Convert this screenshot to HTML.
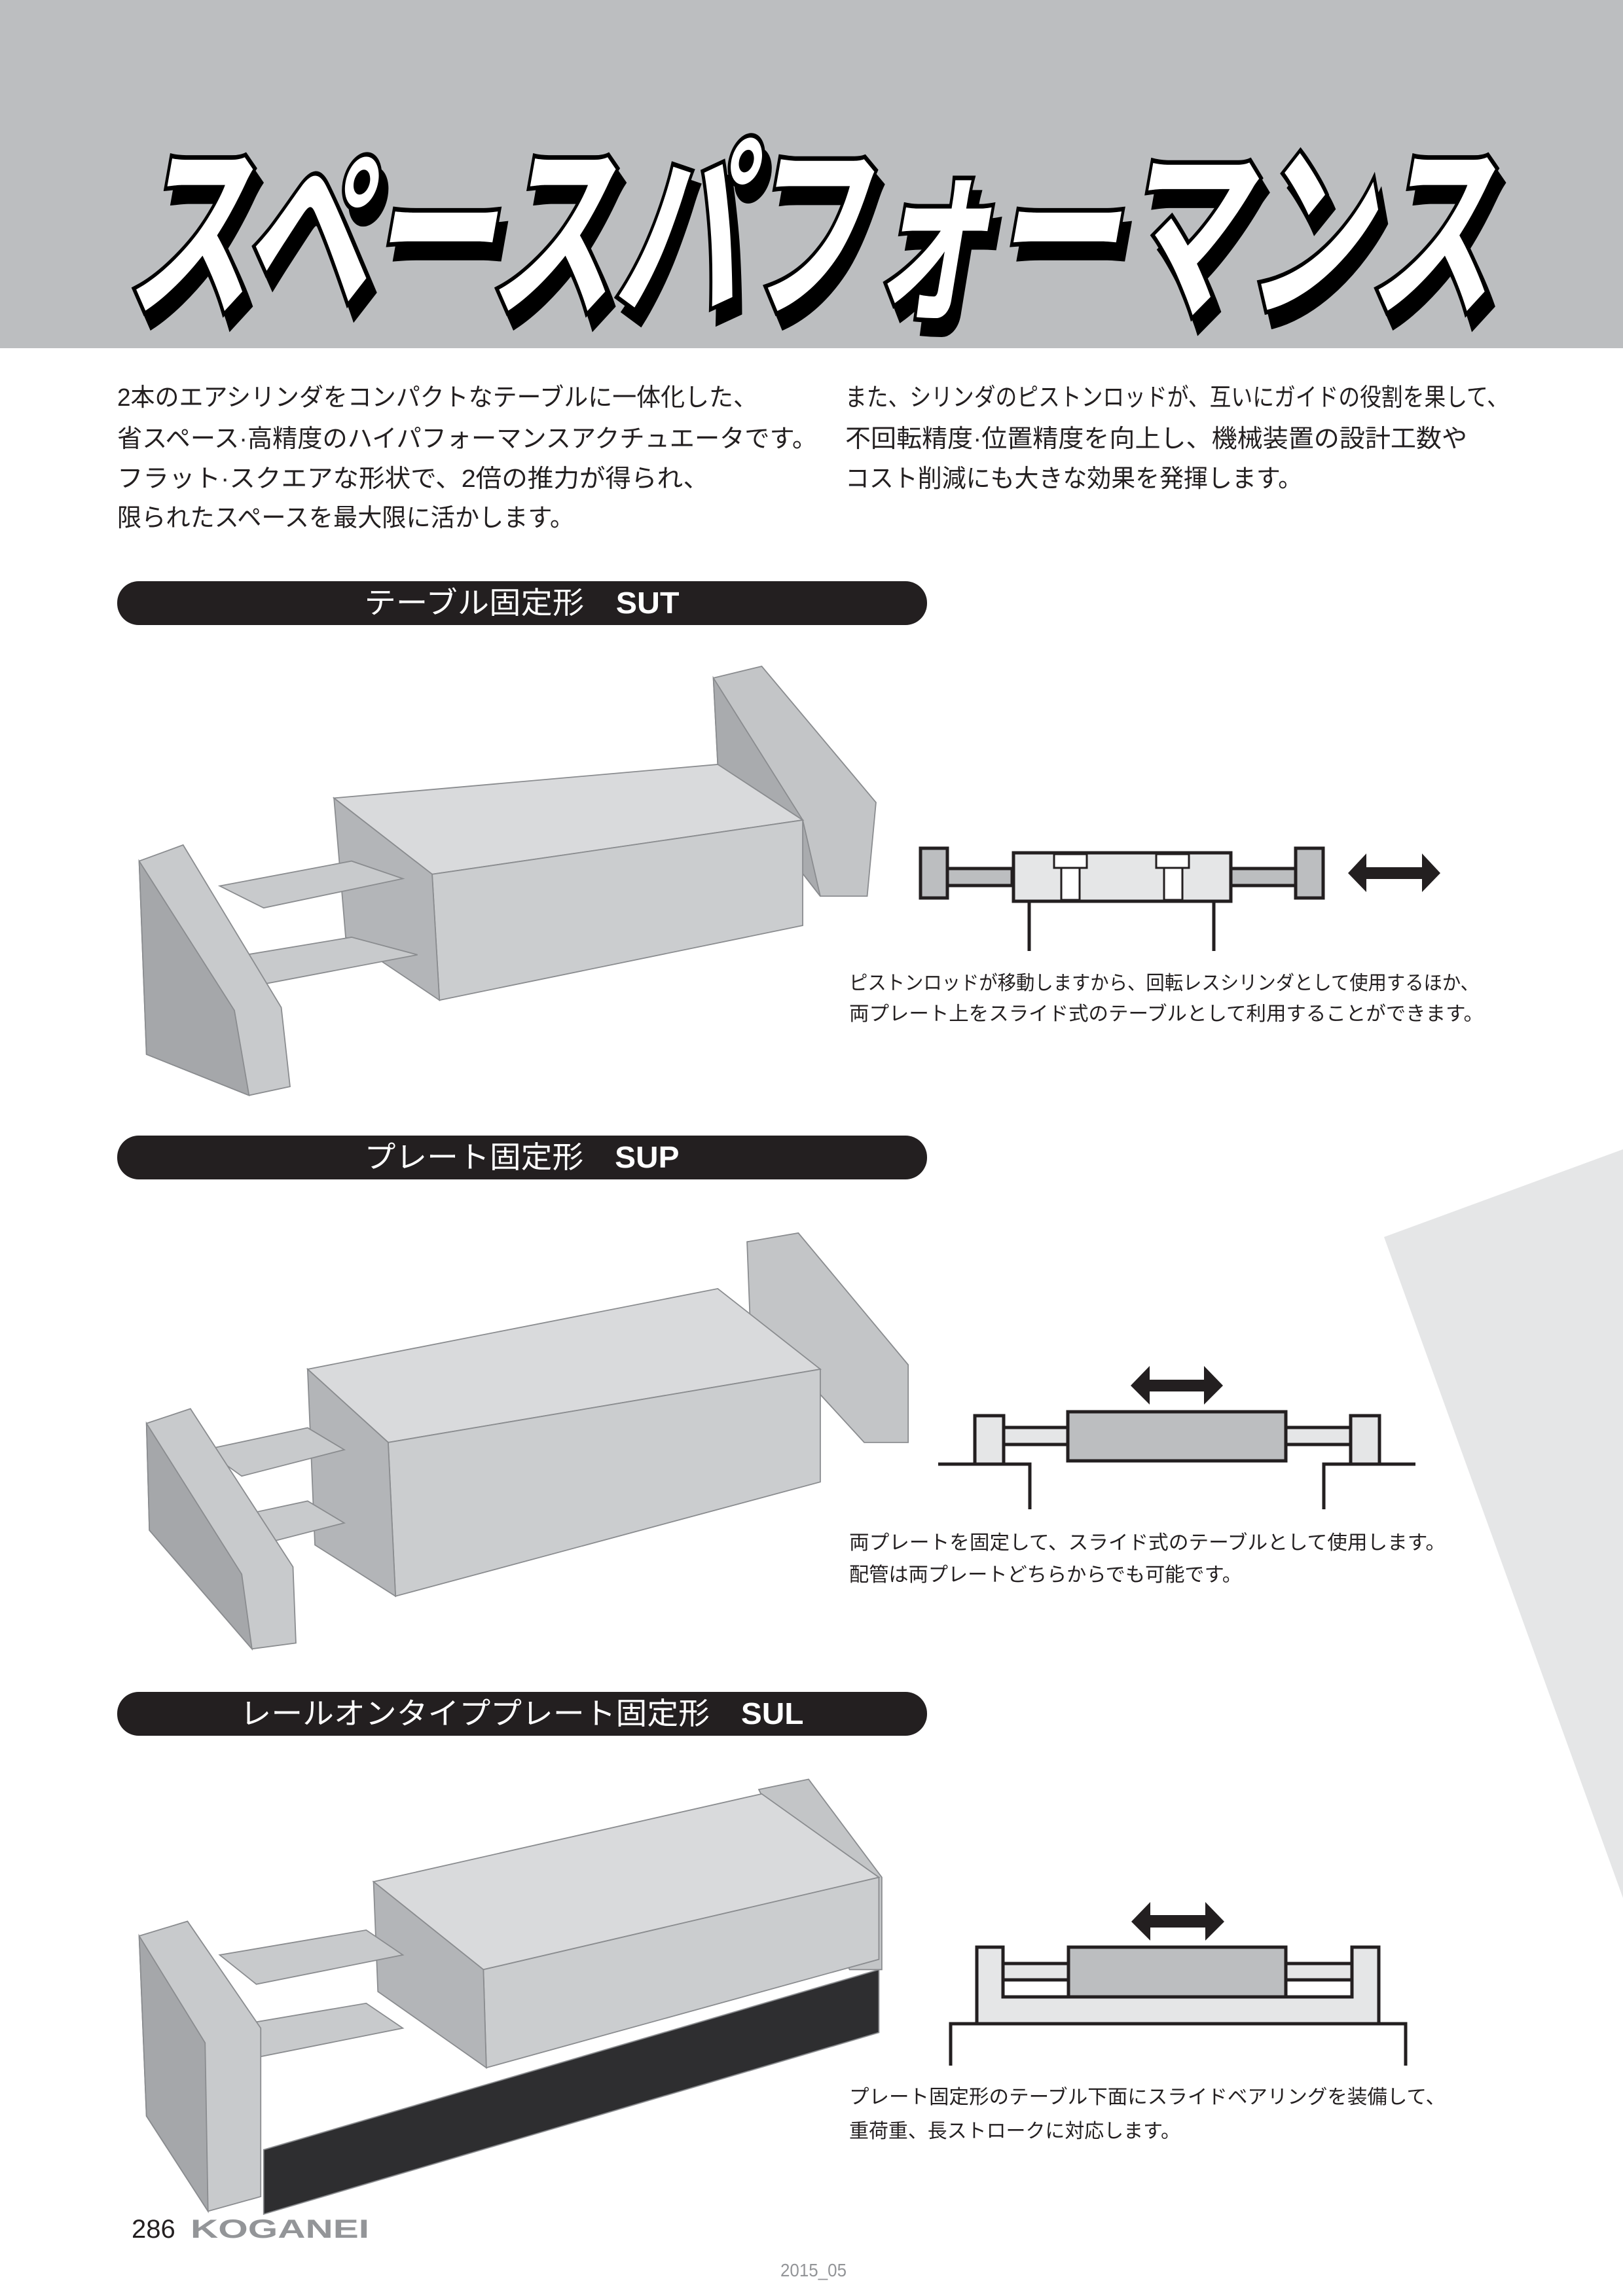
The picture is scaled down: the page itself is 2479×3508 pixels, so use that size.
<!DOCTYPE html>
<html><head><meta charset="utf-8"><style>
html,body{margin:0;padding:0;background:#fff}
svg{display:block}
text{font-family:"Liberation Sans","Noto Sans CJK JP",sans-serif}
</style></head><body>
<svg width="2479" height="3508" viewBox="0 0 2479 3508" xmlns="http://www.w3.org/2000/svg">
<rect x="0" y="0" width="2479" height="532" fill="#bcbec0"/>
<g transform="translate(0,462) skewX(-10)">
<text x="190" y="22" font-size="300" font-weight="bold" textLength="2090" lengthAdjust="spacingAndGlyphs" fill="#000" stroke="#000" stroke-width="14" transform="translate(14,0)">スペースパフォーマンス</text>
<text x="190" y="0" font-size="300" font-weight="bold" textLength="2090" lengthAdjust="spacingAndGlyphs" fill="#fff" stroke="#000" stroke-width="14" paint-order="stroke">スペースパフォーマンス</text>
</g>
<polygon points="2114,1890 2479,1756 2479,2900" fill="#e5e6e7"/>
<g font-size="38" fill="#231f20">
<text x="179" y="620" textLength="978" lengthAdjust="spacingAndGlyphs">2本のエアシリンダをコンパクトなテーブルに一体化した、</text>
<text x="179" y="683" textLength="1069" lengthAdjust="spacingAndGlyphs">省スペース·高精度のハイパフォーマンスアクチュエータです。</text>
<text x="179" y="744" textLength="904" lengthAdjust="spacingAndGlyphs">フラット·スクエアな形状で、2倍の推力が得られ、</text>
<text x="179" y="804" textLength="698" lengthAdjust="spacingAndGlyphs">限られたスペースを最大限に活かします。</text>
<text x="1291" y="620" textLength="1013" lengthAdjust="spacingAndGlyphs">また、シリンダのピストンロッドが、互いにガイドの役割を果して、</text>
<text x="1291" y="683" textLength="950" lengthAdjust="spacingAndGlyphs">不回転精度·位置精度を向上し、機械装置の設計工数や</text>
<text x="1291" y="744" textLength="698" lengthAdjust="spacingAndGlyphs">コスト削減にも大きな効果を発揮します。</text>
</g>
<rect x="179" y="888" width="1237" height="67" rx="33" fill="#231f20"/>
<text x="797" y="937" font-size="46" fill="#fff" text-anchor="middle" textLength="481" lengthAdjust="spacingAndGlyphs">テーブル固定形　<tspan font-weight="bold">SUT</tspan></text>
<rect x="179" y="1735" width="1237" height="67" rx="33" fill="#231f20"/>
<text x="797" y="1784" font-size="46" fill="#fff" text-anchor="middle" textLength="481" lengthAdjust="spacingAndGlyphs">プレート固定形　<tspan font-weight="bold">SUP</tspan></text>
<rect x="179" y="2585" width="1237" height="67" rx="33" fill="#231f20"/>
<text x="797" y="2634" font-size="46" fill="#fff" text-anchor="middle" textLength="861" lengthAdjust="spacingAndGlyphs">レールオンタイププレート固定形　<tspan font-weight="bold">SUL</tspan></text>

<g transform="scale(2.2374)" stroke="#8a8c8f" stroke-width="0.8">
<polygon points="487,463 520,455 598,548 592,612 560,612 490,522" fill="#c3c5c7"/>
<polygon points="487,463 490,522 560,612 548,560" fill="#a9abae"/>
<polygon points="228,545 490,522 548,560 295,597" fill="#d9dadc"/>
<polygon points="295,597 548,560 548,632 300,683" fill="#cbcdcf"/>
<polygon points="228,545 295,597 300,683 236,640" fill="#b3b5b8"/>
<polygon points="150,605 240,588 275,600 180,620" fill="#c8cacc"/>
<polygon points="150,655 240,640 285,652 180,672" fill="#c8cacc"/>
<polygon points="95,588 125,577 192,688 198,742 170,748 100,720" fill="#c8cacc"/>
<polygon points="95,588 160,690 170,748 100,720" fill="#a5a7aa"/>
<polygon points="510,848 545,842 620,932 620,985 590,985 512,900" fill="#c3c5c7"/>
<polygon points="210,935 490,880 560,935 265,985" fill="#d9dadc"/>
<polygon points="265,985 560,935 560,1012 270,1090" fill="#cbcdcf"/>
<polygon points="210,935 265,985 270,1090 215,1055" fill="#b3b5b8"/>
<polygon points="140,990 210,975 235,990 165,1008" fill="#c8cacc"/>
<polygon points="140,1040 210,1025 235,1040 165,1058" fill="#c8cacc"/>
<polygon points="100,972 130,962 200,1070 202,1122 172,1126 102,1045" fill="#c8cacc"/>
<polygon points="100,972 165,1075 172,1126 102,1045" fill="#a5a7aa"/>
<polygon points="180,1468 600,1345 600,1388 180,1512" fill="#2e2e30"/>
<polygon points="518,1222 552,1215 602,1282 602,1345 580,1345" fill="#c3c5c7"/>
<polygon points="255,1285 520,1225 600,1282 330,1345" fill="#d9dadc"/>
<polygon points="330,1345 600,1282 600,1338 332,1412" fill="#cbcdcf"/>
<polygon points="255,1285 330,1345 332,1412 258,1360" fill="#b3b5b8"/>
<polygon points="150,1335 250,1318 275,1335 175,1355" fill="#c8cacc"/>
<polygon points="150,1385 250,1368 275,1385 175,1405" fill="#c8cacc"/>
<polygon points="95,1322 128,1312 178,1385 178,1500 142,1510 100,1445" fill="#c8cacc"/>
<polygon points="95,1322 140,1395 142,1510 100,1445" fill="#a5a7aa"/>
</g>

<g stroke="#231f20" stroke-width="5">
<rect x="1447" y="1327" width="99" height="26" fill="#bcbec0"/>
<rect x="1880" y="1327" width="99" height="26" fill="#bcbec0"/>
<rect x="1406" y="1296" width="41" height="76" fill="#bcbec0"/>
<rect x="1979" y="1296" width="42" height="76" fill="#bcbec0"/>
<rect x="1548" y="1303" width="332" height="74" fill="#e5e6e7"/>
<rect x="1610" y="1305" width="50" height="21" fill="#fff" stroke-width="3"/>
<rect x="1621" y="1326" width="28" height="49" fill="#fff" stroke-width="3"/>
<rect x="1766" y="1305" width="50" height="21" fill="#fff" stroke-width="3"/>
<rect x="1778" y="1326" width="28" height="49" fill="#fff" stroke-width="3"/>
<line x1="1572" y1="1377" x2="1572" y2="1453"/>
<line x1="1854" y1="1377" x2="1854" y2="1453"/>
</g>
<polygon points="2059,1334 2087,1304 2087,1325 2172,1325 2172,1304 2200,1334 2172,1363 2172,1343 2087,1343 2087,1363" fill="#231f20"/>
<g font-size="30" fill="#231f20">
<text x="1297" y="1512" textLength="962" lengthAdjust="spacingAndGlyphs">ピストンロッドが移動しますから、回転レスシリンダとして使用するほか、</text>
<text x="1297" y="1559" textLength="969" lengthAdjust="spacingAndGlyphs">両プレート上をスライド式のテーブルとして利用することができます。</text>
</g>

<g stroke="#231f20" stroke-width="5">
<rect x="1533" y="2181" width="98" height="26" fill="#e5e6e7"/>
<rect x="1964" y="2181" width="99" height="26" fill="#e5e6e7"/>
<rect x="1489" y="2163" width="44" height="74" fill="#e5e6e7"/>
<rect x="2063" y="2163" width="44" height="74" fill="#e5e6e7"/>
<rect x="1631" y="2157" width="333" height="75" fill="#bcbec0"/>
<polyline points="1433,2237 1573,2237 1573,2306" fill="none"/>
<polyline points="2162,2237 2022,2237 2022,2306" fill="none"/>
</g>
<polygon points="1727,2117 1756,2087 1756,2108 1839,2108 1839,2087 1868,2117 1839,2146 1839,2126 1756,2126 1756,2146" fill="#231f20"/>
<g font-size="30" fill="#231f20">
<text x="1297" y="2367" textLength="911" lengthAdjust="spacingAndGlyphs">両プレートを固定して、スライド式のテーブルとして使用します。</text>
<text x="1297" y="2416" textLength="600" lengthAdjust="spacingAndGlyphs">配管は両プレートどちらからでも可能です。</text>
</g>

<g stroke="#231f20" stroke-width="5">
<polyline points="1452,3156 1452,3092 2147,3092 2147,3156" fill="#fff"/>
<polygon points="1492,3092 1492,2975 1532,2975 1532,3051 2065,3051 2065,2975 2106,2975 2106,3092" fill="#e5e6e7"/>
<rect x="1532" y="3000" width="100" height="25" fill="#e5e6e7"/>
<rect x="1532" y="3025" width="100" height="26" fill="#fff"/>
<rect x="1964" y="3000" width="101" height="25" fill="#e5e6e7"/>
<rect x="1964" y="3025" width="101" height="26" fill="#fff"/>
<rect x="1632" y="2975" width="332" height="76" fill="#bcbec0"/>
</g>
<polygon points="1728,2936 1757,2906 1757,2926 1841,2926 1841,2906 1870,2936 1841,2965 1841,2945 1757,2945 1757,2965" fill="#231f20"/>
<g font-size="30" fill="#231f20">
<text x="1297" y="3214" textLength="911" lengthAdjust="spacingAndGlyphs">プレート固定形のテーブル下面にスライドベアリングを装備して、</text>
<text x="1297" y="3266" textLength="506" lengthAdjust="spacingAndGlyphs">重荷重、長ストロークに対応します。</text>
</g>

<text x="201" y="3419" font-size="40" fill="#231f20">286</text>
<text x="291" y="3419" font-size="40" font-weight="bold" fill="#939598" textLength="273" lengthAdjust="spacingAndGlyphs">KOGANEI</text>
<text x="1192" y="3478" font-size="28" fill="#939598" textLength="101" lengthAdjust="spacingAndGlyphs">2015_05</text>
</svg>
</body></html>
